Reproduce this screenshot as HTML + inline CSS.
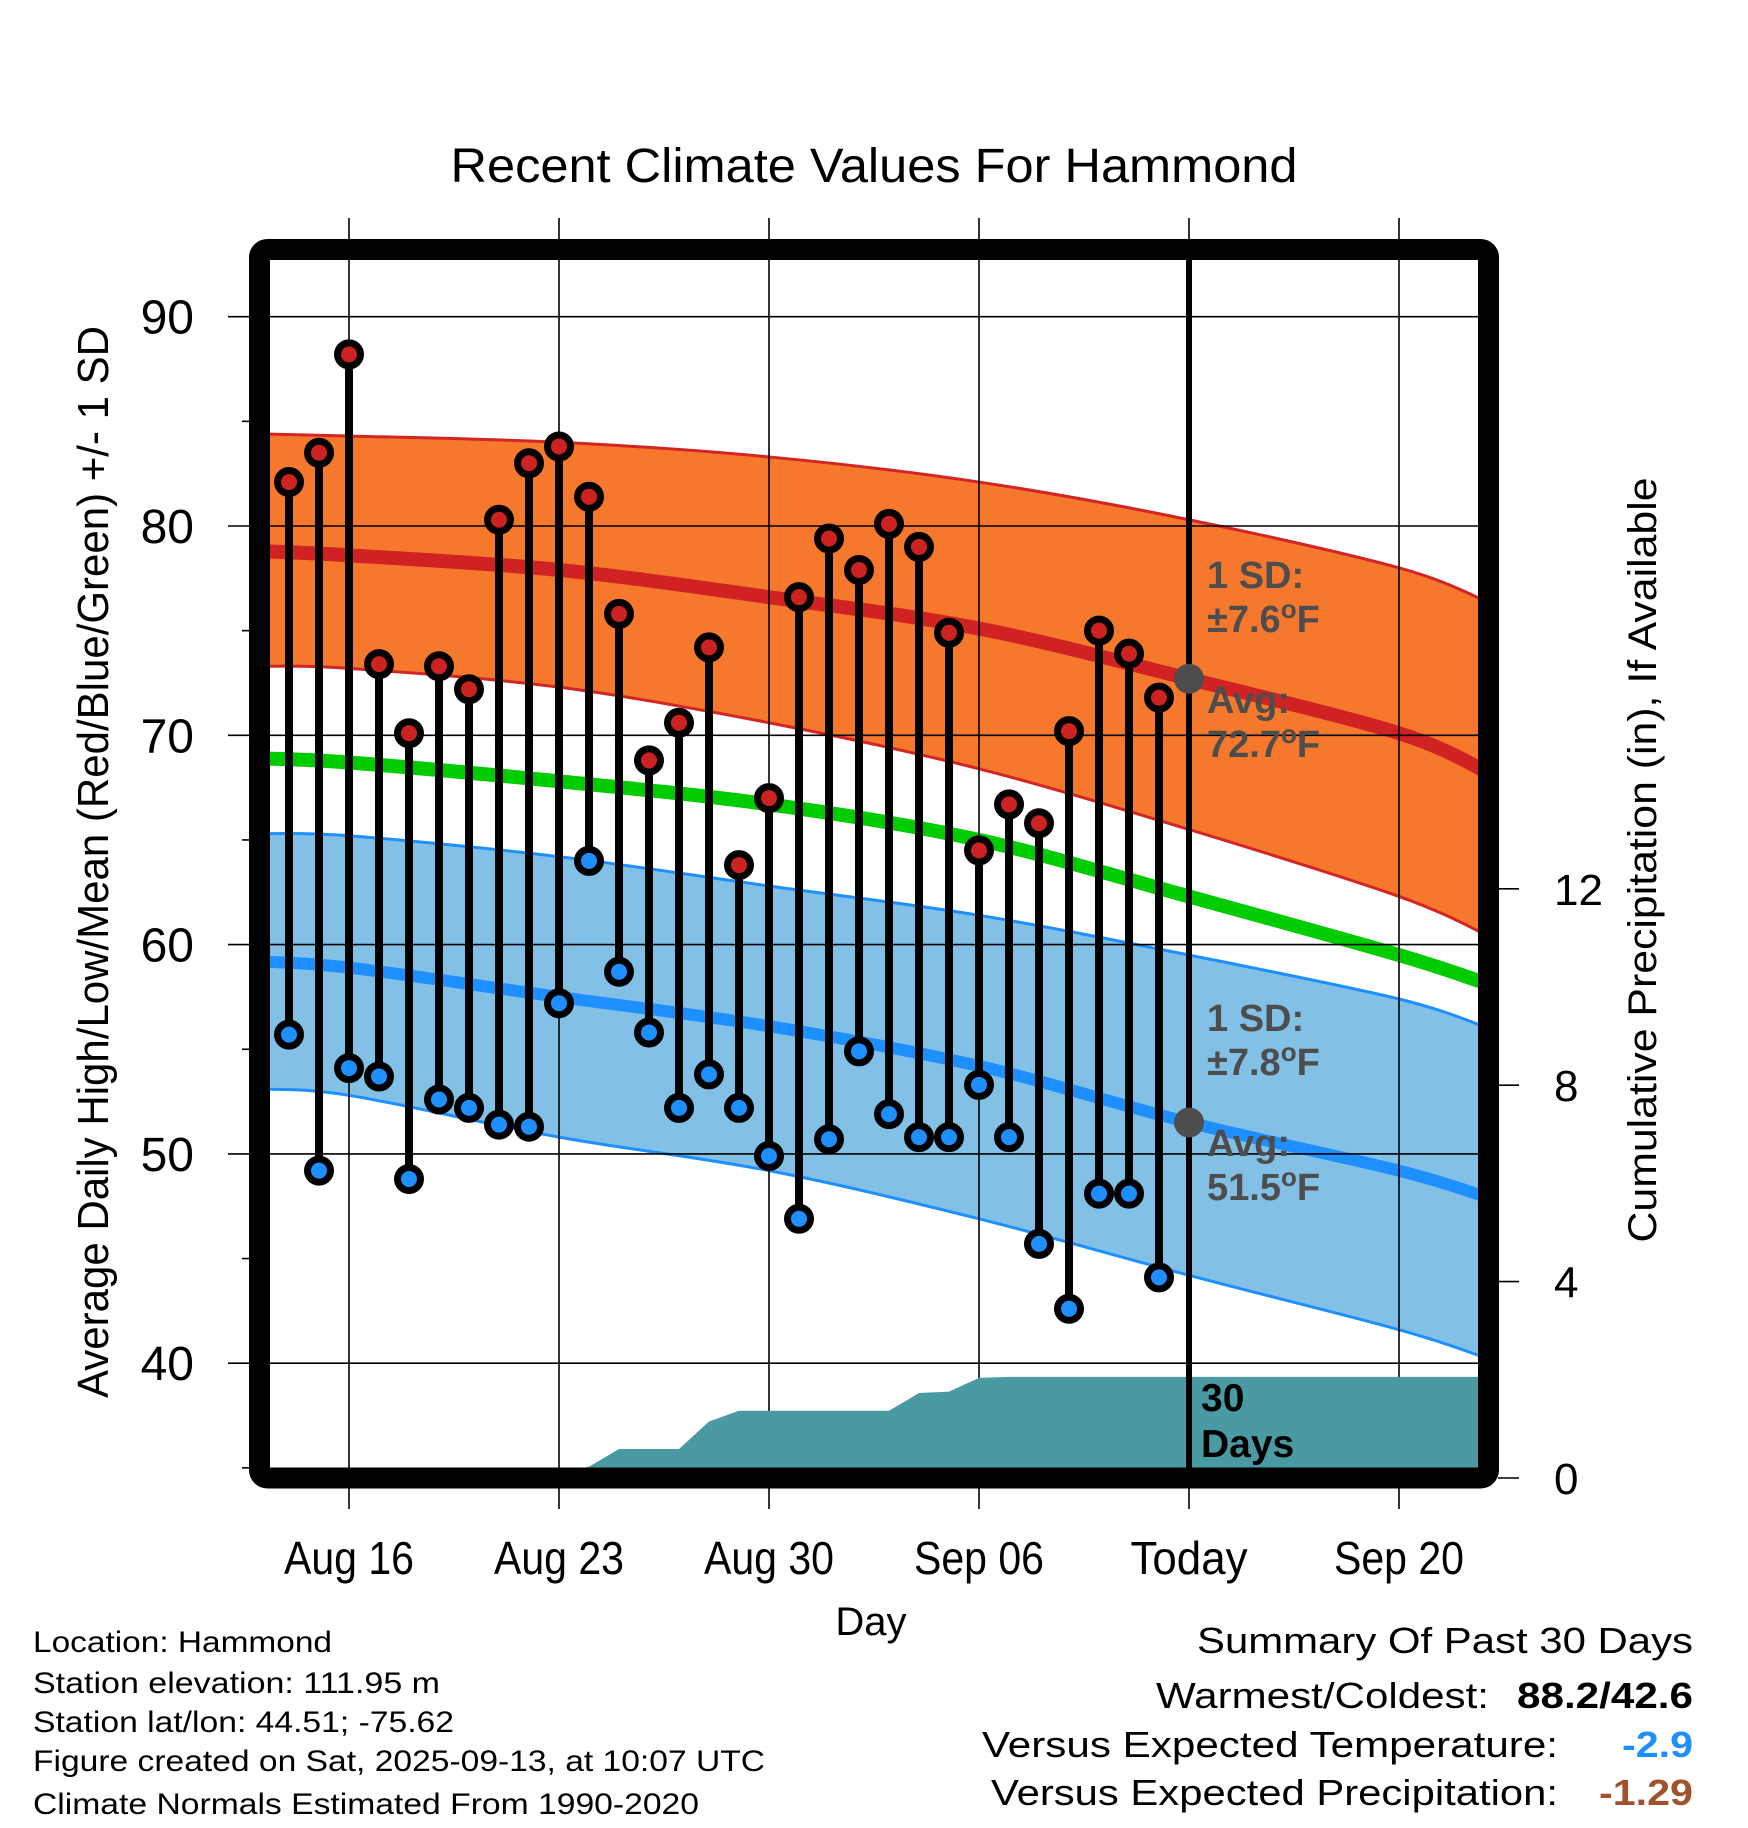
<!DOCTYPE html>
<html><head><meta charset="utf-8"><style>
html,body{margin:0;padding:0;background:#fff;}
svg{display:block;font-family:"Liberation Sans",sans-serif;}
</style></head><body>
<svg id="chart" width="1748" height="1828" viewBox="0 0 1748 1828" xmlns="http://www.w3.org/2000/svg">
<defs><clipPath id="plotclip"><rect x="270" y="260" width="1208" height="1208"/></clipPath></defs>
<text x="874" y="182" font-size="48" text-anchor="middle" textLength="847" lengthAdjust="spacingAndGlyphs">Recent Climate Values For Hammond</text>
<g id="plot" clip-path="url(#plotclip)"></g>
<g id="axes"></g>
<g id="marks"></g>
<rect x="259.5" y="249.5" width="1229" height="1228.5" rx="8" fill="none" stroke="#000" stroke-width="21"/>
<text transform="translate(108,862) rotate(-90)" font-size="44" text-anchor="middle" textLength="1072" lengthAdjust="spacingAndGlyphs">Average Daily High/Low/Mean (Red/Blue/Green) +/- 1 SD</text>
<text transform="translate(1656,860) rotate(-90)" font-size="40" text-anchor="middle" textLength="765" lengthAdjust="spacingAndGlyphs">Cumulative Precipitation (in), If Available</text>
<text x="871" y="1635" font-size="40" text-anchor="middle">Day</text>
<g font-size="30">
<text x="33" y="1652" textLength="299" lengthAdjust="spacingAndGlyphs">Location: Hammond</text>
<text x="33" y="1693" textLength="407" lengthAdjust="spacingAndGlyphs">Station elevation: 111.95 m</text>
<text x="33" y="1732" textLength="421" lengthAdjust="spacingAndGlyphs">Station lat/lon: 44.51; -75.62</text>
<text x="33" y="1771" textLength="732" lengthAdjust="spacingAndGlyphs">Figure created on Sat, 2025-09-13, at 10:07 UTC</text>
<text x="33" y="1814" textLength="666" lengthAdjust="spacingAndGlyphs">Climate Normals Estimated From 1990-2020</text>
</g>
<g font-size="36">
<text x="1197" y="1653" textLength="496" lengthAdjust="spacingAndGlyphs">Summary Of Past 30 Days</text>
<text x="1156" y="1708" textLength="333" lengthAdjust="spacingAndGlyphs">Warmest/Coldest:</text>
<text x="1517" y="1708" font-weight="bold" textLength="176" lengthAdjust="spacingAndGlyphs">88.2/42.6</text>
<text x="982" y="1757" textLength="576" lengthAdjust="spacingAndGlyphs">Versus Expected Temperature:</text>
<text x="1622" y="1757" font-weight="bold" fill="#1e8fff" textLength="71" lengthAdjust="spacingAndGlyphs">-2.9</text>
<text x="991" y="1805" textLength="567" lengthAdjust="spacingAndGlyphs">Versus Expected Precipitation:</text>
<text x="1599" y="1805" font-weight="bold" fill="#a0522d" textLength="94" lengthAdjust="spacingAndGlyphs">-1.29</text>
</g>
</svg>
<script>
// ---- data ----
const dayOffsets = [-2,-1,0,1,2,3,4,5,6,7,8,9,10,11,12,13,14,15,16,17,18,19,20,21,22,23,24,25,26,27]; // days since Aug 16
const highs = [82.1,83.5,88.2,73.4,70.1,73.3,72.2,80.3,83.0,83.8,81.4,75.8,68.8,70.6,74.2,63.8,67.0,76.6,79.4,77.9,80.1,79.0,74.9,64.5,66.7,65.8,70.2,75.0,73.9,71.8];
const lows  = [55.7,49.2,54.1,53.7,48.8,52.6,52.2,51.4,51.3,57.2,64.0,58.7,55.8,52.2,53.8,52.2,49.9,46.9,50.7,54.9,51.9,50.8,50.8,53.3,50.8,45.7,42.6,48.1,48.1,44.1];
const precip = [0,0,0,0,0,0,0,0,0,0.12,0.23,0.59,0.59,0.59,1.15,1.37,1.37,1.37,1.37,1.37,1.37,1.73,1.76,2.04,2.06,2.06,2.06,2.06,2.06,2.06];
const normDays = [-3,0,7,14,21,28,35,38];
const normHighUpper = [84.4,84.3,84.0,83.3,82.1,80.3,78.0,76.35];
const normHigh = [78.8,78.6,77.9,76.6,75.1,72.7,70.1,68.2];
const normHighLower = [73.3,73.2,72.3,70.6,68.4,65.5,62.3,60.4];
const normMean = [68.9,68.7,67.8,66.7,65.0,62.3,59.5,58.1];
const normLowUpper = [65.3,65.2,64.2,62.8,61.4,59.5,57.4,56.0];
const normLow = [59.2,58.9,57.5,56.1,54.2,51.5,49.2,47.9];
const normLowLower = [53.1,52.8,50.8,49.2,46.9,44.2,41.6,40.2];
const yTicks = [40,50,60,70,80,90];
const yMinorTicks = [35,45,55,65,75,85];
const y2Ticks = [0,4,8,12];
const xTickDays = [0,7,14,21,28,35];
const xTickLabels = ["Aug 16","Aug 23","Aug 30","Sep 06","Today","Sep 20"];
const todayDay = 28;
const todayHighAvg = 72.7, todayLowAvg = 51.5;

// ---- scales ----
const X = d => 349 + 30*d;
const Y = v => 316.7 + (90 - v)*20.93;
const YP = p => 1478 - 49.1*p;
const NS = "http://www.w3.org/2000/svg";
function mk(tag, parent, attrs){const e=document.createElementNS(NS,tag);for(const k in attrs)e.setAttribute(k,attrs[k]);parent.appendChild(e);return e;}
const plot=document.getElementById('plot'), axes=document.getElementById('axes'), marks=document.getElementById('marks');
// smooth (Catmull-Rom) path segment through points
function smoothSeg(pts){
  let d='';
  for(let i=0;i<pts.length-1;i++){
    const p0=pts[Math.max(0,i-1)], p1=pts[i], p2=pts[i+1], p3=pts[Math.min(pts.length-1,i+2)];
    const c1x=p1[0]+(p2[0]-p0[0])/6, c1y=p1[1]+(p2[1]-p0[1])/6;
    const c2x=p2[0]-(p3[0]-p1[0])/6, c2y=p2[1]-(p3[1]-p1[1])/6;
    d+=' C'+c1x+','+c1y+' '+c2x+','+c2y+' '+p2[0]+','+p2[1];
  }
  return d;
}
const ptsOf = arr => normDays.map((d,i)=>[X(d),Y(arr[i])]);
const pathOf = arr => {const p=ptsOf(arr);return 'M'+p[0][0]+','+p[0][1]+smoothSeg(p);};
function band(up, lo, fill, edge, name){
  const pu=ptsOf(up), pl=ptsOf(lo).reverse();
  const d='M'+pu[0][0]+','+pu[0][1]+smoothSeg(pu)+' L'+pl[0][0]+','+pl[0][1]+smoothSeg(pl)+' Z';
  const p = mk('path', plot, {d:d, fill:fill});
  
  
  const a = mk('path', plot, {d:pathOf(up), fill:'none', stroke:edge, 'stroke-width':3});
  
  
  const b = mk('path', plot, {d:pathOf(lo), fill:'none', stroke:edge, 'stroke-width':3});
  
  
}
band(normHighUpper, normHighLower, '#f5782d', '#d42525', 'high-sd-band');
band(normLowUpper, normLowLower, '#82c0e6', '#1e8fff', 'low-sd-band');
function nline(arr, color, w, name){
  const l = mk('path', plot, {d:pathOf(arr), fill:'none', stroke:color, 'stroke-width':w});
  
  
}
nline(normHigh, '#d02222', 14, 'normal-high-line');
nline(normMean, '#00cc00', 14, 'normal-mean-line');
nline(normLow, '#1e8fff', 12, 'normal-low-line');

// gridlines
yTicks.forEach(v=>{
  const g = mk('line', axes, {x1:228, x2:1478, y1:Y(v), y2:Y(v), stroke:'#000', 'stroke-width':1.6});
  
  
  const t = mk('text', axes, {x:194, y:Y(v)+17, 'font-size':48, 'text-anchor':'end'});
  t.textContent = v;
  
  
});
yMinorTicks.forEach(v=>{
  const m = mk('line', axes, {x1:242, x2:250, y1:Y(v), y2:Y(v), stroke:'#000', 'stroke-width':1.6});
  
  
});
xTickDays.forEach((d,i)=>{
  const g = mk('line', axes, {x1:X(d), x2:X(d), y1:218, y2:1468, stroke:'#000', 'stroke-width':1.6});
  
  
  const tk = mk('line', axes, {x1:X(d), x2:X(d), y1:1488, y2:1509, stroke:'#000', 'stroke-width':1.6});
  
  
  const t = mk('text', axes, {x:X(d), y:1574, 'font-size':46, 'text-anchor':'middle', textLength: xTickLabels[i]==='Today'?117:130, lengthAdjust:'spacingAndGlyphs'});
  t.textContent = xTickLabels[i];
  
  
});
y2Ticks.forEach(p=>{
  const tk = mk('line', axes, {x1:1498, x2:1519, y1:YP(p), y2:YP(p), stroke:'#000', 'stroke-width':1.6});
  
  
  const t = mk('text', axes, {x:1554, y:YP(p)+16, 'font-size':44});
  t.textContent = p;
  
  
});

// precipitation area
(function(){
  let pts = [X(dayOffsets[0])+','+YP(0)];
  dayOffsets.forEach((d,i)=>pts.push(X(d)+','+YP(precip[i])));
  pts.push('1480,'+YP(precip[precip.length-1]));
  pts.push('1480,'+YP(0));
  const a = mk('polygon', marks, {points:pts.join(' '), fill:'#4a9aa3'});
  
  
})();
const lab30a = mk('text', marks, {x:1201, y:1411, 'font-size':39, 'font-weight':'bold'}); lab30a.textContent='30';


const lab30b = mk('text', marks, {x:1201, y:1457, 'font-size':39, 'font-weight':'bold'}); lab30b.textContent='Days';



// today line
const tl = mk('line', marks, {x1:X(todayDay), x2:X(todayDay), y1:258, y2:1470, stroke:'#000', 'stroke-width':6});



// stems and points
dayOffsets.forEach((d,i)=>{
  const s = mk('line', marks, {x1:X(d), x2:X(d), y1:Y(highs[i]), y2:Y(lows[i]), stroke:'#000', 'stroke-width':8});
  
  
});
dayOffsets.forEach((d,i)=>{
  const h = mk('circle', marks, {cx:X(d), cy:Y(highs[i]), r:11.5, fill:'#cc2222', stroke:'#000', 'stroke-width':7});
  
  
  const l = mk('circle', marks, {cx:X(d), cy:Y(lows[i]), r:11.5, fill:'#1e8fff', stroke:'#000', 'stroke-width':7});
  
  
});
const gd1 = mk('circle', marks, {cx:X(todayDay), cy:Y(todayHighAvg), r:15, fill:'#4d4d4d'});


const gd2 = mk('circle', marks, {cx:X(todayDay), cy:Y(todayLowAvg), r:15, fill:'#4d4d4d'});



function annot(y0, lines, name){
  lines.forEach((ln,k)=>{
    const t = mk('text', marks, {x:1207, y:y0 + [0,44,125,169][k], 'font-size':38, 'font-weight':'bold', fill:'#4d4d4d'});
    t.innerHTML = ln;
    
    
  });
}
annot(588, ['1 SD:', '±7.6<tspan font-size="26" dy="-14">o</tspan><tspan dy="14">F</tspan>', 'Avg:', '72.7<tspan font-size="26" dy="-14">o</tspan><tspan dy="14">F</tspan>'], 'high-annotation');
annot(1031, ['1 SD:', '±7.8<tspan font-size="26" dy="-14">o</tspan><tspan dy="14">F</tspan>', 'Avg:', '51.5<tspan font-size="26" dy="-14">o</tspan><tspan dy="14">F</tspan>'], 'low-annotation');
</script>
</body></html>
